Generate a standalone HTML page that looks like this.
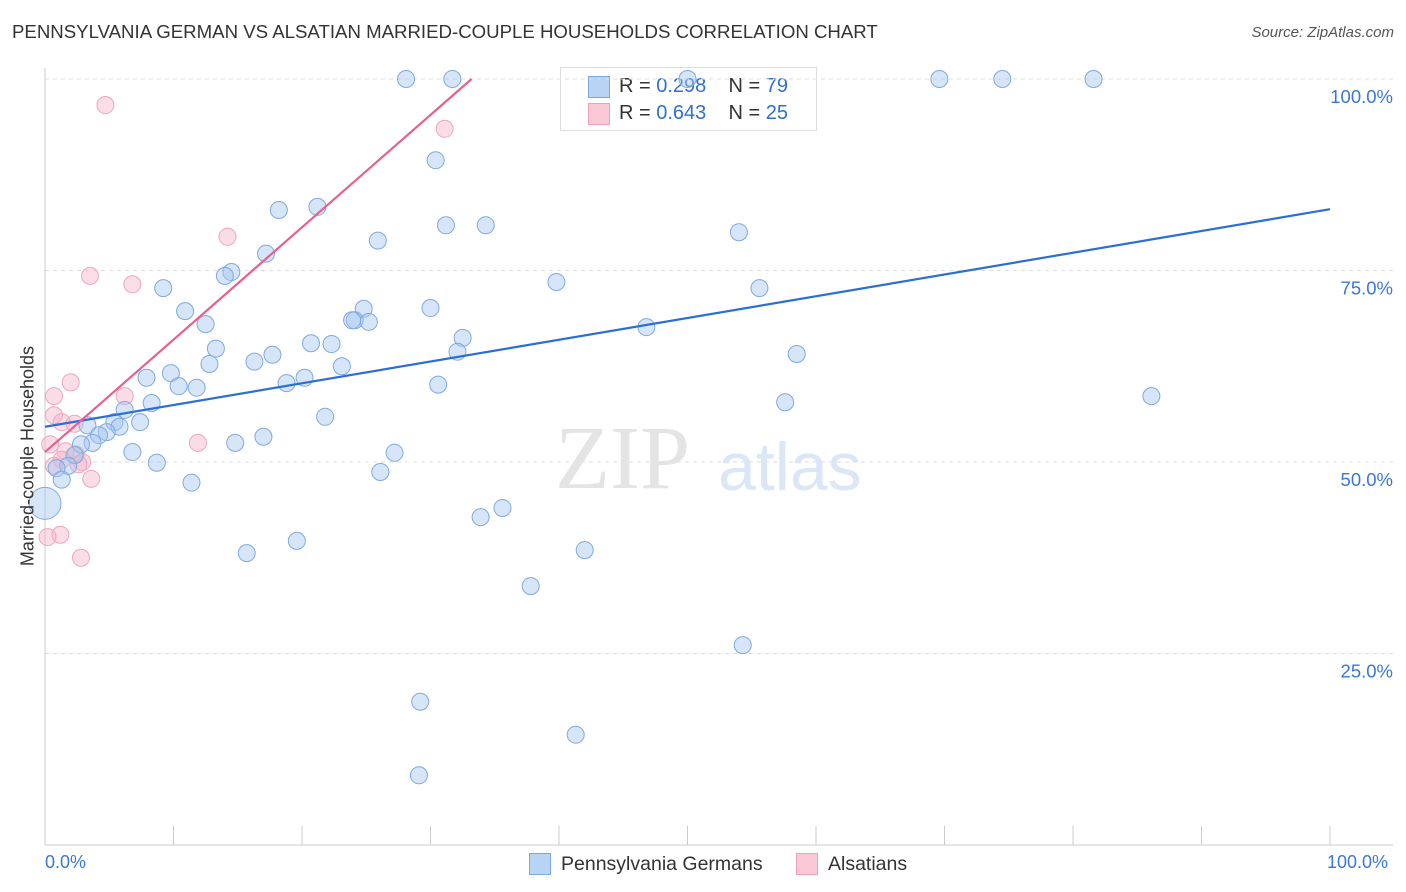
<!DOCTYPE html>
<html><head><meta charset="utf-8"><style>
body{margin:0;background:#fff;font-family:"Liberation Sans",sans-serif}
#wrap{position:relative;width:1406px;height:892px;overflow:hidden}
.t{position:absolute;white-space:nowrap}
</style></head><body>
<div id="wrap">
<div class="t" style="left:12px;top:22px;font-size:18px;color:#333;transform-origin:0 0;transform:scaleX(1.035)">PENNSYLVANIA GERMAN VS ALSATIAN MARRIED-COUPLE HOUSEHOLDS CORRELATION CHART</div>
<div class="t" style="right:12px;top:24px;font-size:15px;color:#555;font-style:italic">Source: ZipAtlas.com</div>
<div style="position:absolute;left:560px;top:67px;width:255px;height:62px;border:1px solid #ddd;background:#fff;font-size:20px;color:#333">
 <div style="position:absolute;left:27px;top:8px;width:20px;height:20px;background:#b9d3f5;border:1px solid #7aa8e0"></div>
 <div class="t" style="left:58px;top:7px">R = <span style="color:#2f6fd0">0.298</span>&nbsp;&nbsp;&nbsp; N = <span style="color:#2f6fd0">79</span></div>
 <div style="position:absolute;left:27px;top:35px;width:20px;height:20px;background:#fac8d6;border:1px solid #f0a0b8"></div>
 <div class="t" style="left:58px;top:34px">R = <span style="color:#2f6fd0">0.643</span>&nbsp;&nbsp;&nbsp; N = <span style="color:#2f6fd0">25</span></div>
</div>
<svg id="svg" width="1406" height="892" style="position:absolute;left:0;top:0"></svg>
<div class="t" style="left:28px;top:456px;font-size:18px;color:#333;transform:translate(-50%,-50%) rotate(-90deg)">Married-couple Households</div>
<div class="t" style="left:45px;top:852px;font-size:18px;color:#3a78d4">0.0%</div>
<div class="t" style="left:1327px;top:852px;font-size:18px;color:#3a78d4">100.0%</div>
<div style="position:absolute;left:529px;top:853px;width:20px;height:20px;background:#b9d3f5;border:1px solid #7aa8e0"></div>
<div class="t" style="left:561px;top:853px;font-size:19.5px;color:#333">Pennsylvania Germans</div>
<div style="position:absolute;left:796px;top:853px;width:20px;height:20px;background:#fac8d6;border:1px solid #f0a0b8"></div>
<div class="t" style="left:828px;top:853px;font-size:19.5px;color:#333">Alsatians</div>
</div>
<script>
const blueX=[28.1,31.7,50.0,69.6,74.5,81.6,30.4,18.2,21.2,31.2,34.3,25.9,54.0,17.2,14.5,14.0,39.8,9.2,55.6,10.9,30.0,24.8,24.1,23.9,25.2,12.5,46.8,32.5,20.7,22.3,32.1,13.3,17.7,58.5,16.3,12.8,23.1,9.8,7.9,20.2,18.8,10.4,11.8,30.6,8.3,57.6,86.1,6.2,21.8,7.4,5.4,3.3,5.8,4.8,4.2,3.7,2.8,14.8,17.0,27.2,6.8,2.3,8.7,1.8,0.9,26.1,1.3,11.4,0,35.6,33.9,19.6,15.7,42.0,37.8,54.3,29.2,41.3,29.1];
const blueY=[100,100,100,100,100,100,89.4,82.9,83.3,80.9,80.9,78.9,80.0,77.2,74.8,74.3,73.5,72.7,72.7,69.7,70.1,70.0,68.5,68.5,68.3,68.0,67.6,66.2,65.5,65.4,64.4,64.8,64.0,64.1,63.1,62.8,62.5,61.6,61.0,61.0,60.3,59.9,59.7,60.1,57.7,57.8,58.6,56.8,55.9,55.2,55.2,54.8,54.6,53.9,53.5,52.5,52.3,52.5,53.3,51.2,51.3,50.9,49.9,49.5,49.2,48.7,47.7,47.3,44.6,44.0,42.8,39.7,38.1,38.5,33.8,26.1,18.7,14.4,9.1];
const pinkX=[4.7,31.1,14.2,3.5,6.8,2.0,0.7,6.2,0.7,1.3,2.3,11.9,0.4,1.6,2.4,1.3,2.9,0.7,2.6,3.6,1.2,0.2,2.8];
const pinkY=[96.6,93.5,79.4,74.3,73.2,60.4,58.6,58.6,56.1,55.2,55.0,52.5,52.3,51.4,51.0,50.3,50.0,49.5,49.7,47.8,40.5,40.2,37.5];
const blueLine=[54.6,83.0]; // y at x=0 and x=100
const pinkLine=[51.3,1.467]; // intercept, slope
const yTicks=[100,75,50,25];
const xTicks=[0,10,20,30,40,50,60,70,80,90,100];
const sx=v=>45+v*12.85, sy=v=>79+(100-v)*7.66;
const svg=document.getElementById('svg'),NS='http://www.w3.org/2000/svg';
function mk(tag,a){const e=document.createElementNS(NS,tag);for(const k in a)e.setAttribute(k,a[k]);svg.appendChild(e);return e;}
yTicks.forEach(v=>{
 const g=mk('line',{x1:45,x2:1393,y1:sy(v),y2:sy(v),stroke:'#ddd','stroke-dasharray':'4,4'});
 
 
 const t=mk('text',{x:1393,y:sy(v)+24,'text-anchor':'end','font-size':18.5,fill:'#3a78d4','font-family':'Liberation Sans, sans-serif'});
 t.textContent=v.toFixed(1)+'%';
 
 
});
let a=mk('line',{x1:45,x2:45,y1:68,y2:845,stroke:'#ccc'});
a=mk('line',{x1:45,x2:1393,y1:845,y2:845,stroke:'#ccc'});
xTicks.forEach(v=>{const l=mk('line',{x1:sx(v),x2:sx(v),y1:826,y2:845,stroke:'#ccc'});
 
 });
const wm=mk('text',{x:555,y:488,'font-size':90,fill:'#e4e4e4','font-family':'Liberation Serif, serif'});wm.textContent='ZIP';


const wm2=mk('text',{x:718,y:490,'font-size':68,fill:'#dbe7f7','font-family':'Liberation Sans, sans-serif'});wm2.textContent='atlas';


pinkX.forEach((x,i)=>{const c=mk('circle',{cx:sx(x),cy:sy(pinkY[i]),r:8.5,fill:'rgba(247,180,202,0.45)',stroke:'#f0a6bc','stroke-width':1});
 
 });
blueX.forEach((x,i)=>{const c=mk('circle',{cx:sx(x),cy:sy(blueY[i]),r:(x===0?16:8.5),fill:'rgba(165,198,240,0.45)',stroke:'#7eaae2','stroke-width':1});
 
 });
let l=mk('line',{x1:sx(0),y1:sy(blueLine[0]),x2:sx(100),y2:sy(blueLine[1]),stroke:'#2b6fd6','stroke-width':2.2});


const px2=(100-pinkLine[0])/pinkLine[1];
l=mk('line',{x1:sx(0),y1:sy(pinkLine[0]),x2:sx(px2),y2:sy(100),stroke:'#e8608e','stroke-width':2.2});


</script>
</body></html>
